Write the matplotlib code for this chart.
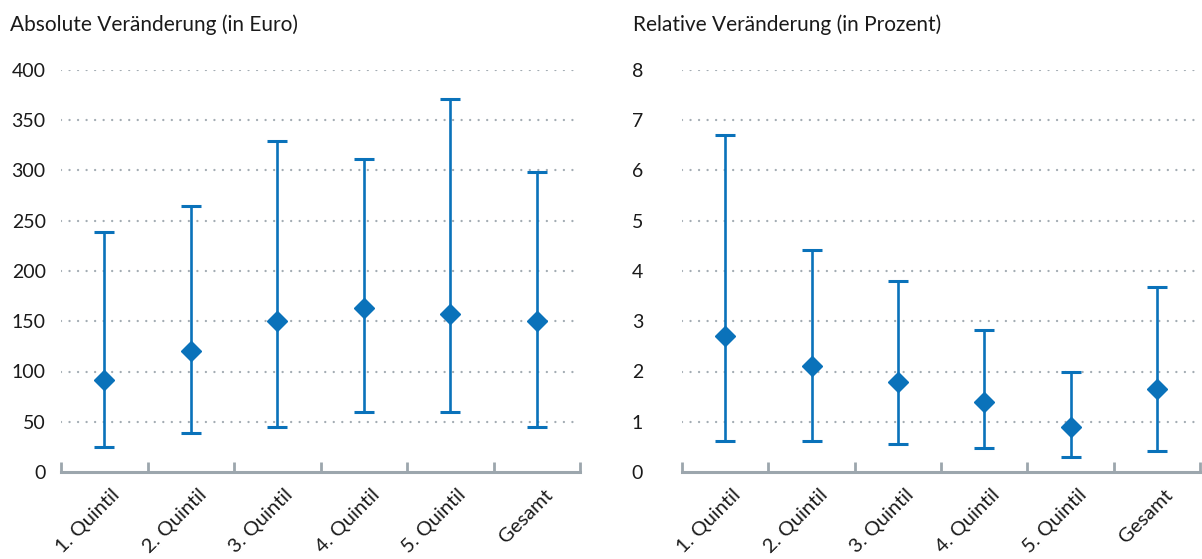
import matplotlib
matplotlib.use("Agg")
import matplotlib.pyplot as plt
import matplotlib.transforms as mtransforms
import numpy as np

categories = ["1. Quintil", "2. Quintil", "3. Quintil", "4. Quintil", "5. Quintil", "Gesamt"]

abs_mid = [92, 120, 150, 163, 157, 150]
abs_low = [25, 39, 45, 60, 60, 45]
abs_high = [239, 265, 329, 311, 371, 299]

rel_mid = [2.7, 2.1, 1.8, 1.4, 0.9, 1.65]
rel_low = [0.62, 0.62, 0.55, 0.48, 0.30, 0.42]
rel_high = [6.7, 4.42, 3.8, 2.82, 2.0, 3.68]

abs_ticks = [0, 50, 100, 150, 200, 250, 300, 350, 400]
rel_ticks = [0, 1, 2, 3, 4, 5, 6, 7, 8]

titles = ["Absolute Veränderung (in Euro)", "Relative Veränderung (in Prozent)"]

BLUE = "#0a72ba"
GRAY = "#9ca6ad"
GRID = "#a3acb3"
TXT = "#1a1a1a"

plt.rcParams["font.family"] = ["Lato", "DejaVu Sans"]

W, H = 1202, 559
fig = plt.figure(figsize=(W / 100, H / 100), dpi=100)

def px_axes(x0, x1, ytop, ybot):
    return fig.add_axes([x0 / W, (H - ybot) / H, (x1 - x0) / W, (ybot - ytop) / H])

panels = [
    (px_axes(61, 580, 70, 472), abs_mid, abs_low, abs_high, abs_ticks, 11, 10),
    (px_axes(682, 1200, 70, 472), rel_mid, rel_low, rel_high, rel_ticks, 28, 633),
]

for i, (ax, mid, low, high, yt, pad, tx) in enumerate(panels):
    x = np.arange(len(categories))
    mid = np.array(mid); low = np.array(low); high = np.array(high)
    ax.errorbar(x, mid, yerr=[mid - low, high - mid], fmt="D", color=BLUE,
                ms=10, ecolor=BLUE, elinewidth=1.9, capsize=7, capthick=2.2,
                zorder=3, clip_on=False)
    ax.set_xlim(-0.5, len(categories) - 0.5)
    ax.set_ylim(yt[0], yt[-1])
    ax.set_yticks(yt)
    ax.set_yticklabels([str(v) for v in yt], fontsize=14, color=TXT)
    ax.tick_params(axis="y", length=0, pad=pad)
    for v in yt[1:]:
        ax.axhline(v, color=GRID, lw=1.7, ls=(0, (0.01, 3.6)), zorder=1,
                   dash_capstyle="round")
    for s in ["top", "right", "left"]:
        ax.spines[s].set_visible(False)
    ax.spines["bottom"].set_color(GRAY)
    ax.spines["bottom"].set_linewidth(2.2)
    ax.set_xticks(np.arange(-0.5, len(categories)), minor=False)
    ax.set_xticklabels([])
    ax.tick_params(axis="x", which="major", direction="in", length=7.5,
                   width=2.0, color=GRAY)
    ax.set_xticks(x, minor=True)
    ax.set_xticklabels(categories, minor=True, rotation=45, ha="right",
                       va="top", rotation_mode="anchor", fontsize=14.5,
                       color=TXT)
    ax.tick_params(axis="x", which="minor", length=0, pad=10)
    off = mtransforms.ScaledTranslation(7 / 100, 0, fig.dpi_scale_trans)
    for lab in ax.get_xticklabels(minor=True):
        lab.set_transform(lab.get_transform() + off)
    fig.text(tx / W, 1 - 25 / H, titles[i], fontsize=15, color=TXT,
             ha="left", va="center")

fig.savefig("out.png", dpi=100)
